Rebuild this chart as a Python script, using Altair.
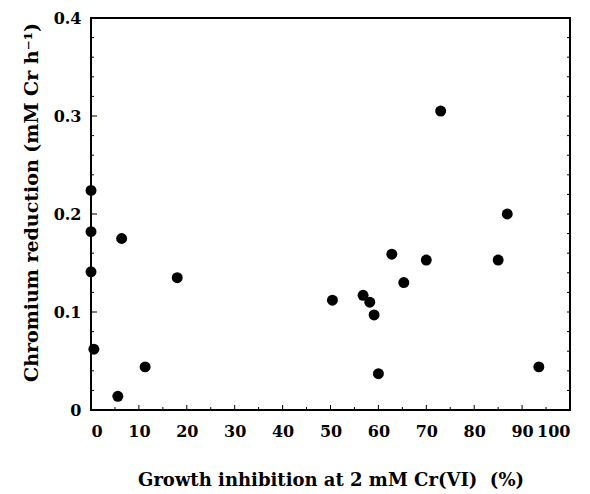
import altair as alt
import pandas as pd

inhibition = [0.0, 0.0, 0.0, 0.6, 5.6, 6.4, 11.3, 18.0, 50.4, 56.8, 58.2, 59.1, 60.0,
              62.8, 65.3, 70.0, 73.0, 85.0, 86.9, 93.5]
reduction = [0.224, 0.182, 0.141, 0.062, 0.014, 0.175, 0.044, 0.135, 0.112, 0.117, 0.110,
             0.097, 0.037, 0.159, 0.130, 0.153, 0.305, 0.153, 0.200, 0.044]

x_major = [0, 10, 20, 30, 40, 50, 60, 70, 80, 90, 100]
x_minor = [5, 15, 25, 35, 45, 55, 65, 75, 85, 95]
y_major = [0.0, 0.1, 0.2, 0.3, 0.4]
y_minor = [0.02, 0.04, 0.06, 0.08, 0.12, 0.14, 0.16, 0.18, 0.22, 0.24, 0.26, 0.28,
           0.32, 0.34, 0.36, 0.38]

df = pd.DataFrame({"x": inhibition, "y": reduction})
FONT = "DejaVu Serif"

xscale = alt.Scale(domain=[0, 100], nice=False)
yscale = alt.Scale(domain=[0, 0.4], nice=False)

points = alt.Chart(df).mark_circle(size=120, color="black", opacity=1, clip=False).encode(
    x=alt.X("x:Q", scale=xscale,
            axis=alt.Axis(values=x_major,
                          title="Growth inhibition at 2 mM Cr(VI)\u00a0\u00a0(%)",
                          format="d", tickSize=0, labelPadding=13, domain=False,
                          grid=False, titlePadding=32, labelFontSize=16, titleFontSize=18,
                          labelFont=FONT, titleFont=FONT, labelFontWeight="bold",
                          titleFontWeight="bold", labelColor="black", titleColor="black")),
    y=alt.Y("y:Q", scale=yscale,
            axis=alt.Axis(values=y_major, title="Chromium reduction (mM Cr h\u207b\u00b9)",
                          labelExpr="datum.value == 0 ? '0' : format(datum.value, '.1f')",
                          tickSize=0, labelPadding=10, domain=False, grid=False,
                          titlePadding=12, titleY=184, labelFontSize=16, titleFontSize=19,
                          labelFont=FONT, titleFont=FONT, labelFontWeight="bold",
                          titleFontWeight="bold", labelColor="black", titleColor="black")),
)

xmaj = alt.Chart(pd.DataFrame({"t": x_major})).mark_rule(color="black", strokeWidth=1).encode(
    x=alt.X("t:Q", scale=xscale), y=alt.value(392), y2=alt.value(387))
xmin = alt.Chart(pd.DataFrame({"t": x_minor})).mark_rule(color="black", strokeWidth=1).encode(
    x=alt.X("t:Q", scale=xscale), y=alt.value(392), y2=alt.value(389))
ymaj = alt.Chart(pd.DataFrame({"t": y_major})).mark_rule(color="black", strokeWidth=1).encode(
    y=alt.Y("t:Q", scale=yscale), x=alt.value(0), x2=alt.value(6))
ymin = alt.Chart(pd.DataFrame({"t": y_minor})).mark_rule(color="black", strokeWidth=1).encode(
    y=alt.Y("t:Q", scale=yscale), x=alt.value(0), x2=alt.value(3))
yminr = alt.Chart(pd.DataFrame({"t": y_minor + y_major})).mark_rule(color="black", strokeWidth=1).encode(
    y=alt.Y("t:Q", scale=yscale), x=alt.value(479), x2=alt.value(476))

chart = alt.layer(xmaj, xmin, ymaj, ymin, yminr, points).properties(
    width=479, height=392,
    autosize=alt.AutoSizeParams(type="none"),
    padding={"left": 91, "top": 18, "right": 20, "bottom": 84},
    background="white",
).configure_view(stroke="black", strokeWidth=2)

chart.save("out.html", embed_options={"renderer": "svg", "actions": False})
